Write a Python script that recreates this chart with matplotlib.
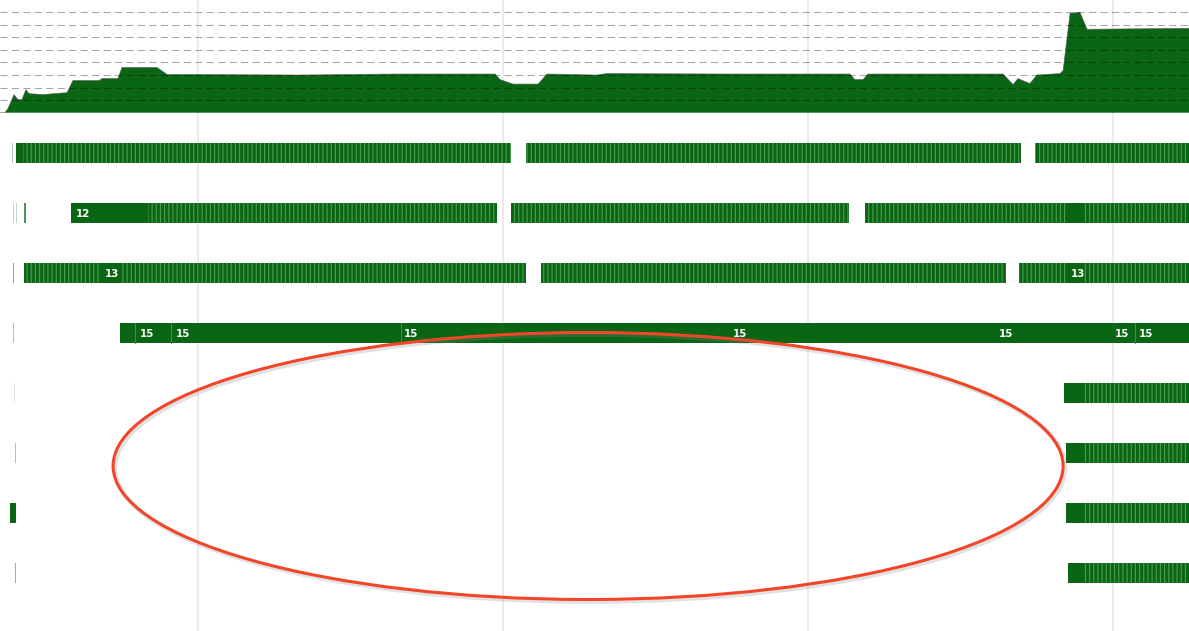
import matplotlib
matplotlib.use("Agg")
import matplotlib.pyplot as plt
from matplotlib.patches import Ellipse

# time axis in ms, 0..3900 across the whole timeline
t_end = 3900
grid_ms = [650, 1650, 2650, 3650]

# CPU usage curve (percent)
cpu_t = [0, 16, 26, 46, 59, 72, 85, 95, 141, 220, 239, 325, 335, 387, 400,
         515, 525, 548, 656, 984, 1300, 1624, 1640, 1683, 1765, 1794, 1958,
         1991, 2400, 2788, 2804, 2831, 2847, 3290, 3323, 3339, 3378, 3401,
         3477, 3487, 3510, 3542, 3566, 3700, 3900]
cpu_v = [0, 0, 4, 18, 13, 13, 23, 19, 18, 20, 32, 32, 34, 34, 45,
         45, 43, 38, 38, 37.5, 38.5, 38.5, 33, 28.5, 28.5, 38.5, 37.5,
         39, 38.5, 38.5, 33, 33, 38.5, 38.5, 28, 34, 29, 37.5,
         39, 42, 99, 100, 83, 83.5, 84]

# worker tracks: striped activity segments (start, end) in ms
track_bars = [
    [(52, 1676), (1725, 3349), (3395, 3900)],
    [(233, 1630), (1676, 2785), (2837, 3900)],
    [(79, 1725), (1774, 3300), (3342, 3900)],
    [(394, 3900)],
    [(3490, 3900)],
    [(3496, 3900)],
    [(3497, 3900)],
    [(3503, 3900)],
]
# long single tasks (solid, no stripes)
track_solid = [
    [(52, 75)],
    [(233, 485), (3503, 3556)],
    [(328, 394), (3497, 3556)],
    [(394, 3900)],
    [(3490, 3556)],
    [(3496, 3556)],
    [(33, 51), (3497, 3556)],
    [(3503, 3556)],
]
# tiny early slivers: (start, width, opacity)
track_slivers = [
    [(39, 3, 0.35)],
    [(42, 3, 0.25), (52, 3, 0.25), (79, 5, 0.7)],
    [(43, 3, 0.5)],
    [(43, 3, 0.35)],
    [(46, 3, 0.15)],
    [(48, 3, 0.35)],
    [],
    [(49, 3, 0.45)],
]
track_dividers = [[], [], [], [443, 561, 1315, 3723], [], [], [], []]
track_labels = [
    [],
    [(249, "12")],
    [(344, "13"), (3513, "13")],
    [(459, "15"), (577, "15"), (1325, "15"), (2404, "15"), (3277, "15"),
     (3657, "15"), (3736, "15")],
    [], [], [], [],
]

green = "#0a6614"
stripe = "#4c9c52"

plt.rcParams["hatch.linewidth"] = 0.8
fig = plt.figure(figsize=(11.89, 6.31), dpi=100)

# full-height axes for tracks and grid
ax = fig.add_axes([0, 0, 1, 1])
ax.set_xlim(0, t_end)
ax.set_ylim(7.967, -2.55)
ax.axis("off")
for g in grid_ms:
    ax.axvline(g, color="#e6e6e6", lw=1.1, zorder=0)

bh = 0.333
for i in range(len(track_bars)):
    for s, e in track_bars[i]:
        ax.barh(i, e - s, left=s, height=bh, color=green, edgecolor=stripe,
                hatch="||||", linewidth=0, zorder=2)
    for s, e in track_solid[i]:
        ax.barh(i, e - s, left=s, height=bh, color=green, linewidth=0, zorder=3)
    for s, w, a in track_slivers[i]:
        ax.barh(i, w, left=s, height=bh, color=green, alpha=a, linewidth=0, zorder=3)
    for d in track_dividers[i]:
        ax.plot([d, d], [i - bh / 2, i + bh / 2], color="#3f8f45", lw=0.7, zorder=4)
    for x, txt in track_labels[i]:
        ax.text(x, i + 0.01, txt, color="white", fontsize=7.4, va="center",
                ha="left", fontweight="semibold", zorder=5)

# red highlight ellipse (with a soft shadow)
ax.add_patch(Ellipse((1935, 5.25), 3116, 4.45, fill=False, ec="#888888",
                     lw=3.4, alpha=0.25, zorder=6))
ax.add_patch(Ellipse((1929, 5.217), 3116, 4.45, fill=False, ec="#f2462a",
                     lw=2.2, zorder=7))

# CPU area on top
top = 112.7 / 631
ax2 = fig.add_axes([0, 1 - top, 1, top])
ax2.set_xlim(0, t_end)
ax2.set_ylim(0, 112.25)
ax2.patch.set_alpha(0)
ax2.axis("off")
ax2.fill_between(cpu_t, cpu_v, 0, color=green, lw=0, zorder=1)
ax2.plot(cpu_t, cpu_v, color="#555555", lw=0.6, alpha=0.7, zorder=2)
for k in range(1, 9):
    ax2.axhline(12.5 * k, color="black", alpha=0.35, lw=0.75,
                dashes=(6.8, 4.2), zorder=3)

fig.savefig("out.png", dpi=100)
